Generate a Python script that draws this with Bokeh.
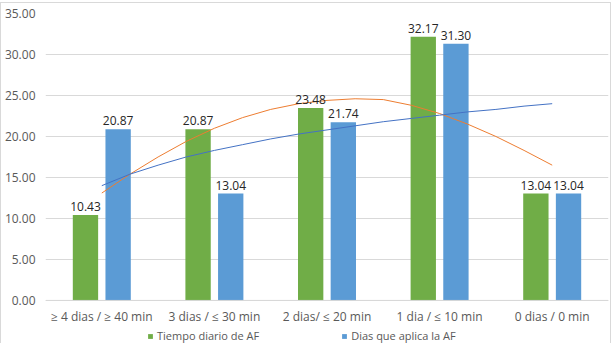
from bokeh.plotting import figure
from bokeh.models import ColumnDataSource, LabelSet, Legend, LegendItem, Range1d, FixedTicker, Span
from bokeh.core.properties import value
from bokeh.embed import file_html
from bokeh.resources import INLINE

categories = ["≥ 4 dias / ≥ 40 min", "3 dias / ≤ 30 min", "2 dias/ ≤ 20 min", "1 dia / ≤ 10 min", "0 dias / 0 min"]
tiempo = [10.43, 20.87, 23.48, 32.17, 13.04]
dias = [20.87, 13.04, 21.74, 31.30, 13.04]
series_names = ["Tiempo diario de AF", "Dias que aplica la AF"]
y_ticks = [0, 5, 10, 15, 20, 25, 30, 35]

# trend lines (category position, value)
trend_pos = [1.0, 1.25, 1.5, 1.75, 2.0, 2.25, 2.5, 2.75, 3.0, 3.25, 3.5, 3.75, 4.0, 4.25, 4.5, 4.75, 5.0]
trend_tiempo = [13.1, 15.4, 17.5, 19.4, 21.0, 22.3, 23.3, 24.0, 24.4, 24.6, 24.5, 23.8, 22.8, 21.5, 20.0, 18.3, 16.5]
trend_dias = [14.0, 15.4, 16.5, 17.5, 18.3, 19.0, 19.7, 20.3, 20.8, 21.3, 21.8, 22.2, 22.6, 23.0, 23.3, 23.7, 24.0]

GREEN = "#70AD47"
BLUE = "#5B9BD5"
FONT = "Open Sans"

xs = list(range(1, len(categories) + 1))
off = 0.145
w = 0.225

# frame extends below zero so the category labels and legend sit inside it
p = figure(width=611, height=341, output_backend="svg", toolbar_location=None,
           x_range=Range1d(0.5, 5.5), y_range=Range1d(-5.375, 35),
           min_border_left=44, min_border_right=4, min_border_top=10, min_border_bottom=0)
p.styles = {"border-left": "1px solid #d9d9d9", "border-right": "1px solid #d9d9d9",
            "border-top": "1px solid #d9d9d9", "margin-top": "2px", "margin-left": "0px"}
p.outline_line_color = None
p.background_fill_color = "white"
p.border_fill_color = "white"

src_g = ColumnDataSource(dict(x=[x - off for x in xs], y=tiempo, lab=[f"{v:.2f}" for v in tiempo]))
src_b = ColumnDataSource(dict(x=[x + off for x in xs], y=dias, lab=[f"{v:.2f}" for v in dias]))

rg = p.vbar(x="x", top="y", width=w, source=src_g, fill_color=GREEN, line_color=None)
rb = p.vbar(x="x", top="y", width=w, source=src_b, fill_color=BLUE, line_color=None)

p.line(trend_pos, trend_tiempo, line_color="#ED7D31", line_width=1)
p.line(trend_pos, trend_dias, line_color="#4472C4", line_width=1)

for s in (src_g, src_b):
    p.add_layout(LabelSet(x="x", y="y", text="lab", source=s, text_align="center",
                          text_baseline="bottom", y_offset=4, text_font=value(FONT),
                          text_font_size="12px", text_color="#262626"))

# category axis drawn at y = 0
p.xaxis.visible = False
p.add_layout(Span(location=0, dimension="width", line_color="#d9d9d9", line_width=1))
cat_src = ColumnDataSource(dict(x=xs, y=[0] * len(xs), lab=categories))
p.add_layout(LabelSet(x="x", y="y", text="lab", source=cat_src, text_align="center",
                      text_baseline="middle", y_offset=-16, text_font=value(FONT),
                      text_font_size="12px", text_color="#595959"))

p.yaxis.ticker = FixedTicker(ticks=y_ticks)
p.yaxis.major_label_overrides = {v: f"{v:.2f}" for v in y_ticks}
p.yaxis.major_tick_line_color = None
p.yaxis.major_tick_out = 0
p.yaxis.major_tick_in = 0
p.yaxis.minor_tick_line_color = None
p.yaxis.minor_tick_out = 0
p.yaxis.axis_line_color = None
p.yaxis.major_label_text_font = FONT
p.yaxis.major_label_text_font_size = "12px"
p.yaxis.major_label_text_color = "#595959"
p.yaxis.major_label_standoff = 10

p.xgrid.grid_line_color = None
p.ygrid.grid_line_color = "#d9d9d9"
p.ygrid.ticker = FixedTicker(ticks=y_ticks)

legend = Legend(items=[LegendItem(label=series_names[0], renderers=[rg]),
                       LegendItem(label=series_names[1], renderers=[rb])],
                orientation="horizontal", location=(102, 1),
                glyph_width=6, glyph_height=6, label_text_font=FONT,
                label_text_font_size="11px", label_text_color="#595959",
                label_height=14, padding=0, margin=0, spacing=82, label_standoff=4,
                background_fill_alpha=0, border_line_color=None)
p.add_layout(legend, "center")

open("out.html", "w").write(file_html(p, INLINE))
